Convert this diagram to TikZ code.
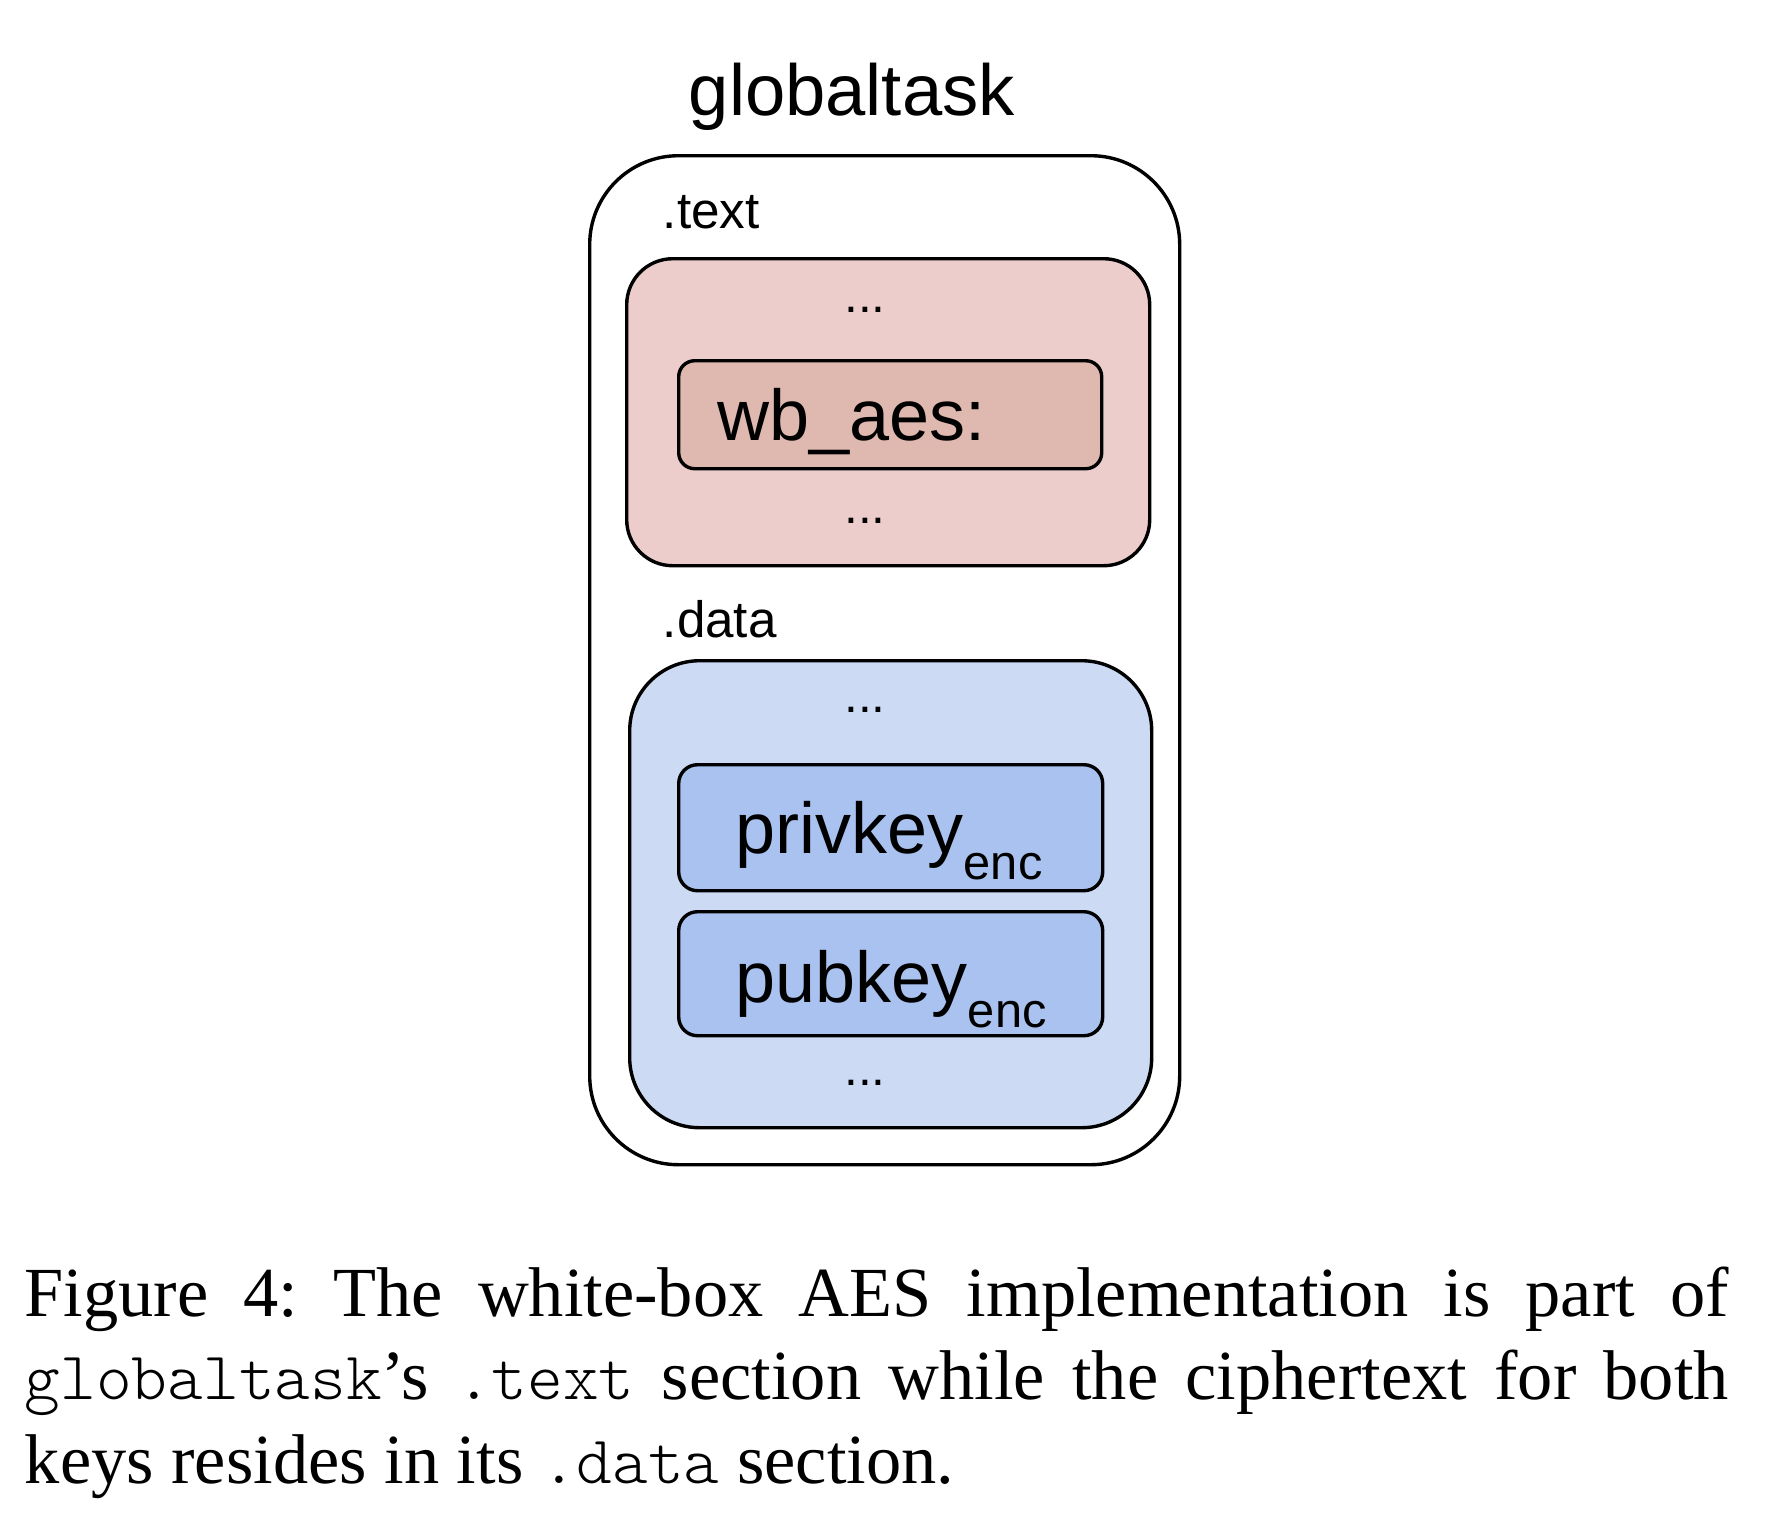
\documentclass[tikz,border=0pt]{standalone}
\usepackage{fontspec}
\setmainfont{Liberation Serif}
\newfontfamily\arial{Liberation Sans}
\newfontfamily\cour{lmmonolt10-regular.otf}
\definecolor{redouter}{RGB}{236,205,204}
\definecolor{redinner}{RGB}{223,185,176}
\definecolor{blueouter}{RGB}{204,218,244}
\definecolor{blueinner}{RGB}{169,194,239}
\newcommand{\tcode}[1]{{\cour\fontsize{17pt}{20.9pt}\selectfont #1}}
\begin{document}
\begin{tikzpicture}[x=0.25pt,y=-0.25pt,
  box/.style={draw=black,line width=0.85pt,inner sep=0pt,anchor=north west},
  lbl/.style={inner sep=0pt,anchor=base west,font=\arial\fontsize{12.8pt}{14pt}\selectfont},
  dots/.style={inner sep=0pt,anchor=base,font=\arial\fontsize{12.4pt}{14pt}\selectfont},
  big/.style={inner sep=0pt,anchor=base west,font=\arial\fontsize{18pt}{21pt}\selectfont}]
\useasboundingbox (0,0) rectangle (1768,1524);
% title
\node[big,font=\arial\fontsize{18.1pt}{21pt}\selectfont] (title) at (688,115) {globaltask};
% outer box
\node[box,fill=white,rounded corners=22.2pt,minimum width=147.5pt,minimum height=252.25pt] (outer) at (588,154) {};
% .text section
\node[lbl] (textlbl) at (662,228) {.text};
\node[box,fill=redouter,rounded corners=11.5pt,minimum width=130.75pt,minimum height=76.75pt] (textsec) at (625,257) {};
\node[dots] (tdots1) at (865,312) {...};
\node[box,fill=redinner,rounded corners=4pt,minimum width=105.75pt,minimum height=27pt] (wbbox) at (677,359) {};
\node[big] (wbaes) at (717,440) {wb\_aes:};
\node[dots] (tdots2) at (865,523) {...};
% .data section
\node[lbl] (datalbl) at (662,637) {.data};
\node[box,fill=blueouter,rounded corners=17.5pt,minimum width=130.5pt,minimum height=116.75pt] (datasec) at (628,659) {};
\node[dots] (ddots1) at (865,712) {...};
\node[box,fill=blueinner,rounded corners=4.7pt,minimum width=106pt,minimum height=31.5pt] (privbox) at (677,763) {};
\node[big] (priv) at (735,853) {privkey\raisebox{-6.6pt}{\fontsize{12.2pt}{14pt}\selectfont enc}};
\node[box,fill=blueinner,rounded corners=4.7pt,minimum width=106pt,minimum height=31pt] (pubbox) at (677,910) {};
\node[big] (pub) at (735,1002) {pubkey\raisebox{-6.4pt}{\fontsize{12.2pt}{14pt}\selectfont enc}};
\node[dots] (ddots2) at (865,1085) {...};
% caption
\node[inner sep=0pt,anchor=base west] (caption) at (24,1316) {\parbox[t]{426pt}{\frenchspacing\fontsize{17.6pt}{20.9pt}\selectfont Figure 4: The white-box AES implementation is part of\linebreak
\tcode{globaltask}’s \tcode{.text} section while the ciphertext for both\linebreak
keys resides in its \tcode{.data} section.}};
\end{tikzpicture}
\end{document}
